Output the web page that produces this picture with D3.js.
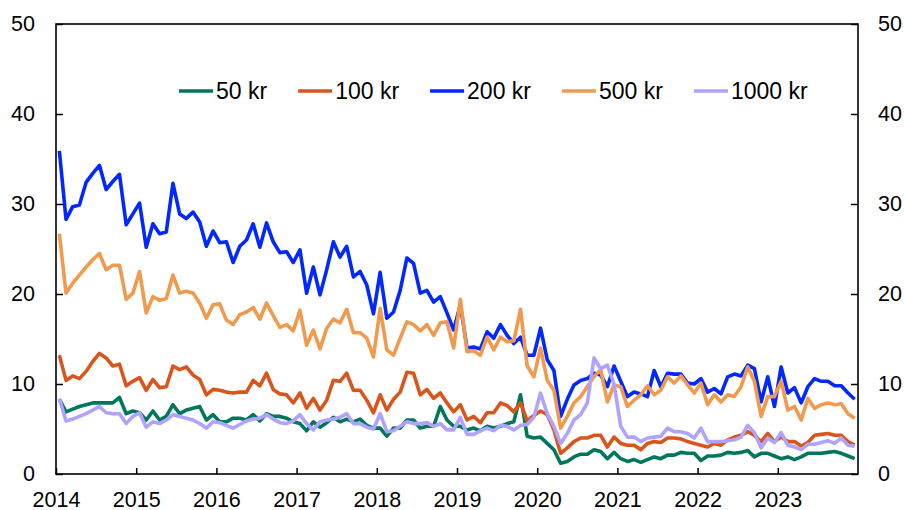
<!DOCTYPE html>
<html>
<head>
<meta charset="utf-8">
<script src="https://cdn.jsdelivr.net/npm/d3@7"></script>
<style>
  body { margin: 0; background: #fff; }
  svg { display: block; font-family: Arial, "Liberation Sans", sans-serif; }
  .axis text { font-size: 21.5px; fill: #000; }
  .axis line { stroke: #000; stroke-width: 1.5; }
  .axis .domain { display: none; }
  .legend text { font-size: 23px; fill: #000; }
</style>
</head>
<body>
<svg width="904" height="510"></svg>
<script>
// monthly shares, Jan 2014 - Dec 2023
var years = ['2014', '2015', '2016', '2017', '2018', '2019', '2020', '2021', '2022', '2023'];
var yTicks = [0, 10, 20, 30, 40, 50];
var seriesNames = ['50 kr', '100 kr', '200 kr', '500 kr', '1000 kr'];
var seriesColors = ['#00775a', '#d8561c', '#0028ff', '#f19a4e', '#b0a3ff'];

var kr50 = [
  8.3, 6.9, 7.2, 7.5, 7.7, 7.9, 7.9, 7.9, 7.9, 8.5, 6.7, 7.0, 6.8, 6.0, 7.0, 6.0, 6.4, 7.7, 6.7, 7.1, 7.3, 7.5, 6.0, 6.6,
  5.8, 5.8, 6.2, 6.2, 6.0, 6.6, 5.9, 6.7, 6.4, 6.4, 6.2, 5.8, 5.6, 4.8, 5.8, 5.2, 5.7, 6.3, 5.8, 6.1, 5.8, 6.1, 5.4, 5.1,
  5.1, 4.2, 5.1, 5.1, 6.0, 6.0, 5.1, 5.3, 5.3, 7.5, 6.0, 5.3, 5.3, 4.9, 5.1, 4.8, 5.3, 5.1, 5.3, 5.6, 5.8, 8.8, 4.2, 4.0,
  4.1, 3.4, 2.7, 1.2, 1.4, 1.9, 2.2, 2.2, 2.7, 2.5, 1.7, 2.4, 1.7, 1.4, 1.6, 1.3, 1.6, 1.9, 1.7, 2.1, 2.1, 2.4, 2.3, 2.3,
  1.5, 2.0, 2.0, 2.1, 2.4, 2.3, 2.4, 2.6, 1.9, 2.3, 2.3, 2.0, 1.7, 1.9, 1.6, 1.9, 2.3, 2.3, 2.3, 2.4, 2.5, 2.3, 2.0, 1.7
];
var kr100 = [
  13.2, 10.4, 10.9, 10.6, 11.4, 12.5, 13.4, 12.9, 12.0, 12.2, 9.8, 10.3, 10.7, 9.3, 10.5, 9.6, 9.7, 12.0, 11.6, 11.9, 11.0, 10.5, 8.8, 9.4,
  9.3, 9.1, 9.0, 9.1, 9.1, 10.4, 9.8, 11.2, 9.4, 8.9, 8.8, 7.9, 9.0, 7.3, 8.4, 7.1, 8.2, 10.4, 10.3, 11.2, 9.3, 9.3, 8.2, 6.8,
  8.8, 7.1, 8.3, 9.1, 11.3, 11.2, 8.8, 9.4, 8.4, 9.0, 7.9, 6.9, 7.7, 6.0, 6.4, 5.7, 6.8, 6.8, 7.9, 7.6, 6.9, 7.9, 5.9, 6.5,
  7.0, 6.6, 4.9, 2.3, 2.9, 3.6, 4.0, 4.0, 4.3, 4.3, 3.0, 4.1, 3.4, 3.2, 3.2, 2.7, 3.4, 3.6, 3.5, 4.0, 4.0, 3.9, 3.6, 3.4,
  3.2, 3.0, 3.4, 3.2, 3.8, 4.1, 4.3, 4.7, 4.3, 3.6, 4.5, 3.6, 4.1, 3.6, 3.6, 3.1, 3.5, 4.3, 4.4, 4.5, 4.3, 4.3, 3.6, 3.2
];
var kr200 = [
  35.9, 28.3, 29.7, 29.9, 32.4, 33.4, 34.3, 31.6, 32.5, 33.3, 27.7, 28.9, 30.1, 25.2, 27.8, 26.7, 26.9, 32.3, 28.9, 28.4, 29.1, 28.0, 25.3, 27.0,
  25.7, 25.8, 23.5, 25.3, 26.0, 27.8, 25.2, 27.9, 25.8, 24.6, 24.7, 23.5, 24.9, 20.1, 23.0, 19.9, 22.7, 25.8, 24.1, 25.3, 21.9, 22.5, 21.0, 17.8,
  22.4, 17.3, 18.0, 20.4, 24.0, 23.4, 20.1, 20.4, 19.1, 19.7, 17.9, 16.0, 18.8, 14.0, 14.1, 13.9, 15.8, 15.1, 16.6, 15.4, 14.5, 15.2, 13.2, 13.2,
  16.2, 12.7, 11.5, 6.4, 8.3, 9.9, 10.4, 10.6, 11.2, 11.0, 9.7, 12.0, 10.3, 8.6, 9.1, 8.9, 8.6, 11.5, 9.7, 11.2, 11.1, 11.1, 10.1, 10.0,
  10.6, 9.1, 9.5, 8.9, 10.8, 11.1, 10.9, 12.1, 11.7, 8.0, 10.8, 7.5, 11.9, 9.0, 9.6, 7.9, 9.7, 10.6, 10.3, 10.3, 9.8, 9.8, 9.0, 8.3
];
var kr500 = [
  26.7, 20.1, 21.2, 22.1, 23.0, 23.8, 24.5, 22.7, 23.2, 23.2, 19.4, 20.1, 22.5, 17.9, 19.7, 19.3, 19.5, 22.1, 20.1, 20.3, 20.1, 19.0, 17.3, 18.8,
  18.9, 17.1, 16.6, 17.7, 18.0, 18.5, 17.2, 19.0, 17.6, 16.3, 16.6, 15.9, 18.2, 14.3, 16.0, 13.9, 16.2, 17.2, 16.8, 18.3, 15.7, 15.7, 15.1, 13.0,
  18.4, 13.8, 13.2, 15.1, 16.9, 16.6, 15.9, 16.6, 15.4, 16.8, 16.9, 14.0, 19.4, 13.6, 13.7, 13.2, 15.2, 13.8, 15.2, 14.7, 14.8, 18.3, 12.0, 10.8,
  14.0, 10.4, 9.3, 5.1, 6.4, 7.9, 8.6, 9.7, 10.8, 11.6, 8.0, 9.9, 9.7, 7.5, 8.2, 8.8, 9.8, 8.8, 9.3, 10.8, 10.1, 10.9, 9.9, 9.0,
  10.1, 7.7, 8.8, 8.0, 8.8, 8.6, 9.7, 11.9, 10.3, 6.4, 8.6, 8.6, 10.3, 7.1, 7.5, 6.0, 8.4, 7.3, 7.7, 7.9, 7.7, 7.8, 6.7, 6.2
];
var kr1000 = [
  8.4, 5.9, 6.1, 6.4, 6.7, 7.1, 7.5, 6.8, 6.7, 6.7, 5.6, 6.4, 6.8, 5.2, 5.8, 5.6, 6.0, 6.6, 6.4, 6.2, 6.0, 5.6, 5.1, 5.8,
  5.7, 5.4, 5.1, 5.5, 5.9, 6.1, 6.2, 6.6, 6.1, 5.7, 5.6, 5.9, 6.6, 5.6, 4.9, 5.8, 6.0, 6.1, 6.3, 6.7, 5.6, 5.6, 5.2, 5.0,
  6.7, 4.7, 4.8, 5.3, 5.8, 5.6, 5.6, 5.7, 5.3, 5.6, 4.9, 4.9, 6.3, 4.4, 4.4, 4.8, 5.1, 4.8, 5.4, 5.3, 4.9, 5.4, 5.5, 6.3,
  9.0, 6.7, 5.3, 3.4, 4.5, 6.0, 6.6, 7.9, 12.9, 11.7, 12.1, 10.0, 5.3, 4.1, 4.1, 3.6, 4.0, 4.1, 4.2, 5.1, 4.7, 4.7, 4.5, 4.0,
  5.1, 3.6, 3.6, 3.6, 3.7, 3.8, 4.1, 5.4, 4.6, 2.9, 4.0, 3.5, 4.6, 3.2, 3.0, 2.7, 3.3, 3.3, 3.5, 3.7, 3.4, 4.0, 3.2, 3.1
];
var seriesValues = [kr50, kr100, kr200, kr500, kr1000];

var plotLeft = 56, plotRight = 858, plotTop = 24, plotBottom = 474;
var svg = d3.select('svg');

// month index on x, each point in the middle of its month
var x = d3.scaleLinear().domain([0, years.length * 12]).range([plotLeft, plotRight]);
var y = d3.scaleLinear().domain([0, 50]).range([plotBottom, plotTop]);

svg.append('g')
    .attr('class', 'axis')
    .attr('transform', 'translate(' + plotLeft + ',0)')
    .call(d3.axisLeft(y).tickValues(yTicks).tickSize(-7).tickSizeOuter(0).tickPadding(21));

svg.append('g')
    .attr('class', 'axis')
    .attr('transform', 'translate(' + plotRight + ',0)')
    .call(d3.axisRight(y).tickValues(yTicks).tickSize(-7).tickSizeOuter(0).tickPadding(20));

svg.append('g')
    .attr('class', 'axis')
    .attr('transform', 'translate(0,' + plotBottom + ')')
    .call(d3.axisBottom(x)
      .tickValues(years.map(function(d, i){ return i * 12; }))
      .tickFormat(function(d){ return years[d / 12]; })
      .tickSize(-6).tickSizeOuter(0).tickPadding(18));

svg.append('rect')
    .attr('x', plotLeft)
    .attr('y', plotTop)
    .attr('width', plotRight - plotLeft)
    .attr('height', plotBottom - plotTop)
    .attr('fill', 'none')
    .attr('stroke', '#000')
    .attr('stroke-width', 1.6);

var line = d3.line()
    .x(function(d, i){ return x(i + 0.5); })
    .y(function(d){ return y(d); });

svg.append('g').selectAll('path').data(seriesValues)
  .enter()
    .append('path')
    .attr('d', line)
    .attr('fill', 'none')
    .attr('stroke', function(d, i){ return seriesColors[i]; })
    .attr('stroke-width', 3.6)
    .attr('stroke-linejoin', 'round');

// legend, one row inside the plot
var legend = svg.append('g').attr('class', 'legend').attr('transform', 'translate(179,91)');
var lx = 0;
seriesNames.forEach(function(name, i){
  var g = legend.append('g').attr('transform', 'translate(' + lx + ',0)');
  g.append('line')
      .attr('x1', 0).attr('x2', 34)
      .attr('stroke', seriesColors[i])
      .attr('stroke-width', 3.6);
  var t = g.append('text')
      .attr('x', 37)
      .attr('dy', '0.35em')
      .text(name);
  lx += 37 + t.node().getComputedTextLength() + 31;
});
</script>
</body>
</html>
